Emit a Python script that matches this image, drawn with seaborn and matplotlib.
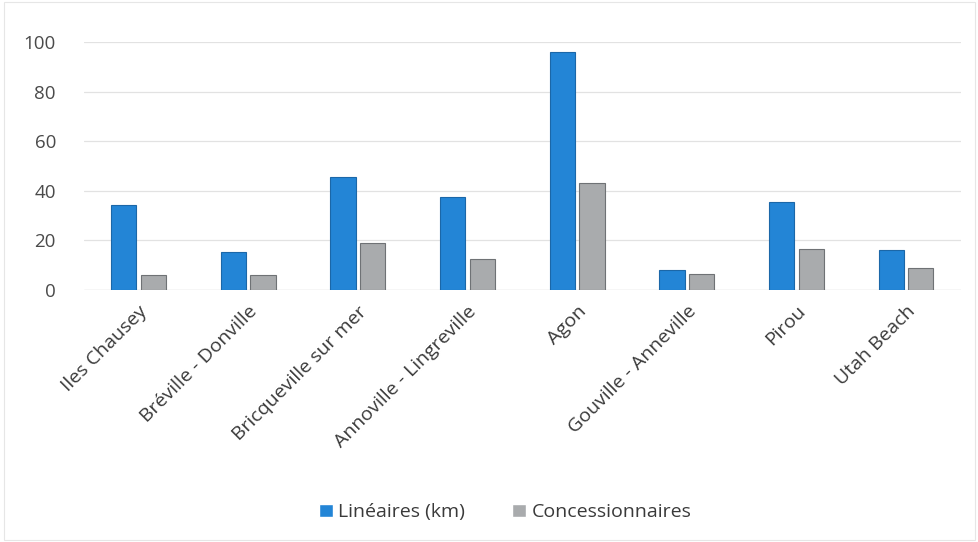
import matplotlib
matplotlib.use("Agg")
import matplotlib.pyplot as plt
import seaborn as sns
import pandas as pd

categories = ["Iles Chausey", "Bréville - Donville", "Bricqueville sur mer",
              "Annoville - Lingreville", "Agon", "Gouville - Anneville",
              "Pirou", "Utah Beach"]
lineaires = [34.5, 15.5, 45.5, 37.5, 96, 8, 35.5, 16]
concessionnaires = [6, 6, 19, 12.5, 43, 6.5, 16.5, 9]
series_names = ["Linéaires (km)", "Concessionnaires"]
yticks = [0, 20, 40, 60, 80, 100]

df = pd.DataFrame({
    "site": categories * 2,
    "value": lineaires + concessionnaires,
    "serie": [series_names[0]] * len(categories) + [series_names[1]] * len(categories),
})

sns.set_theme(style="white")
plt.rcParams["font.family"] = ["Open Sans", "DejaVu Sans"]

fig = plt.figure(figsize=(9.79, 5.42), dpi=100)
ax = fig.add_axes([0.0855, 0.465, 0.896, 0.457])

palette = {series_names[0]: "#2385d6", series_names[1]: "#a9abad"}
sns.barplot(data=df, x="site", y="value", hue="serie", palette=palette,
            width=0.54, gap=0.15, ax=ax, saturation=1, legend=True)

edgecols = ["#1b67a8", "#6f7275"]
for cont, ec in zip(ax.containers, edgecols):
    for p in cont:
        p.set_edgecolor(ec)
        p.set_linewidth(0.8)

ax.set_xlim(-0.5, len(categories) - 0.5)
ax.set_ylim(0, 100)
ax.set_yticks(yticks)
ax.set_xlabel("")
ax.set_ylabel("")
ax.yaxis.grid(True, color="#e2e2e2", linewidth=0.9)
ax.set_axisbelow(True)
for s in ax.spines.values():
    s.set_visible(False)
ax.axhline(0, color="#d9d9d9", linewidth=0.9, zorder=0.5)

ax.tick_params(axis="y", labelsize=13.5, labelcolor="#4a4a4a", pad=20, length=0)
ax.tick_params(axis="x", labelsize=14, labelcolor="#3a3a3a", length=0, pad=9)
for lbl in ax.get_xticklabels():
    lbl.set_rotation(45)
    lbl.set_ha("right")
    lbl.set_rotation_mode("anchor")
for lbl in ax.get_yticklabels():
    lbl.set_ha("right")

leg = ax.legend(loc="center", bbox_to_anchor=(0.516, 0.055), bbox_transform=fig.transFigure,
                ncol=2, frameon=False, fontsize=14, handlelength=0.7, handleheight=0.7,
                handletextpad=0.3, columnspacing=2.4)
for t in leg.get_texts():
    t.set_color("#3a3a3a")

fig.patches.append(plt.Rectangle((0.004, 0.004), 0.992, 0.992, transform=fig.transFigure,
                                 fill=False, edgecolor="#e6e6e6", linewidth=0.8))

fig.savefig("out.png", dpi=100, facecolor="white")
